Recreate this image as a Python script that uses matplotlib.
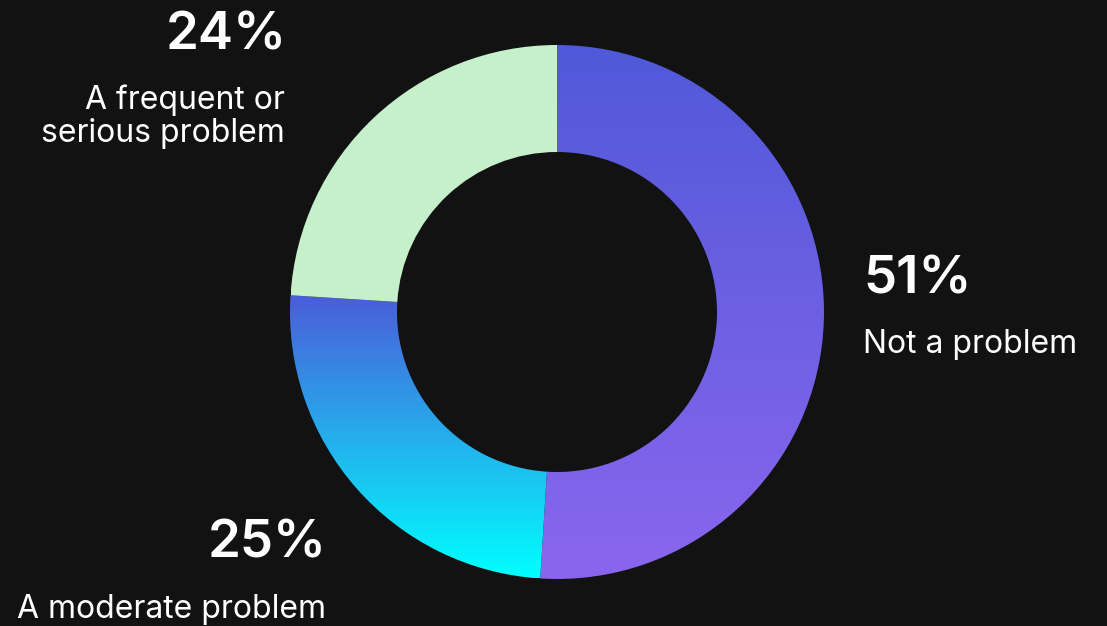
import matplotlib.pyplot as plt
import numpy as np
from matplotlib.patches import Wedge
from matplotlib.colors import LinearSegmentedColormap

# survey shares, clockwise from 12 o'clock
labels = ["Not a problem", "A moderate problem", "A frequent or\nserious problem"]
values = [51, 25, 24]

bg = "#121212"
# top -> bottom colour of each ring segment
grads = [("#5059d9", "#8a66ee"), ("#4b5cd9", "#00ffff"), ("#c6f0cb", "#c6f0cb")]

W, H = 1107, 626
cx, cy = 557, H - 312
r_out, r_in = 267, 160

fig = plt.figure(figsize=(W / 100, H / 100), dpi=100, facecolor=bg)
ax = fig.add_axes([0, 0, 1, 1])
ax.set_xlim(0, W)
ax.set_ylim(0, H)
ax.set_aspect("equal")
ax.axis("off")
ax.set_facecolor(bg)

total = sum(values)
start = 90.0
for val, (c_top, c_bot) in zip(values, grads):
    sweep = 360.0 * val / total
    w = Wedge((cx, cy), r_out, start - sweep, start, width=r_out - r_in,
              facecolor="none", edgecolor="none")
    ax.add_patch(w)
    bb = w.get_path().get_extents(w.get_patch_transform())
    cmap = LinearSegmentedColormap.from_list("g", [c_bot, c_top])
    grad = np.linspace(0, 1, 256).reshape(-1, 1)
    im = ax.imshow(grad, cmap=cmap, origin="lower", aspect="auto",
                   extent=[bb.x0, bb.x1, bb.y0, bb.y1], interpolation="bilinear")
    im.set_clip_path(w)
    start -= sweep

plt.rcParams["font.family"] = ["Inter", "DejaVu Sans"]
big = dict(color="white", fontsize=38, fontweight="semibold", va="baseline")
small = dict(color="white", fontsize=23, va="baseline", linespacing=1.08)

ax.text(863, H - 293, f"{values[0]}%", ha="left", **big)
ax.text(863, H - 353, labels[0], ha="left", **small)

ax.text(327, H - 557, f"{values[1]}%", ha="right", **big)
ax.text(326, H - 618, labels[1], ha="right", **small)

ax.text(287, H - 50, f"{values[2]}%", ha="right", **big)
ax.text(285, H - 142, labels[2], ha="right", multialignment="right", **small)

fig.savefig("out.png", dpi=100, facecolor=bg)
